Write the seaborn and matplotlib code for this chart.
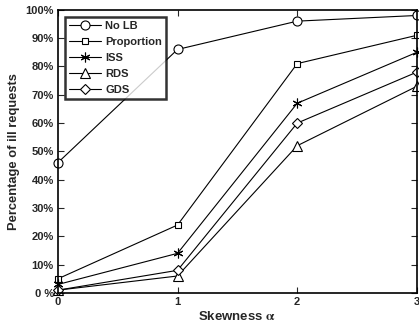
import matplotlib
matplotlib.use("Agg")
import matplotlib.pyplot as plt
import seaborn as sns
import pandas as pd

skew = [0, 1, 2, 3]
no_lb = [46, 86, 96, 98]
proportion = [5, 24, 81, 91]
iss = [3, 14, 67, 85]
rds = [1, 6, 52, 73]
gds = [1, 8, 60, 78]
series_names = ["No LB", "Proportion", "ISS", "RDS", "GDS"]
yticks = [0, 10, 20, 30, 40, 50, 60, 70, 80, 90, 100]
ytick_labels = ["0 %"] + [f"{v}%" for v in yticks[1:]]

rows = []
for name, vals in zip(series_names, [no_lb, proportion, iss, rds, gds]):
    for x, v in zip(skew, vals):
        rows.append({"alpha": x, "pct": v, "series": name})
df = pd.DataFrame(rows)

sns.set_theme(style="ticks")
plt.rcParams["font.family"] = ["Liberation Sans", "DejaVu Sans"]
plt.rcParams["font.weight"] = "bold"
plt.rcParams["mathtext.fontset"] = "stix"

fig = plt.figure(figsize=(4.19, 3.27), dpi=100)
ax = fig.add_axes([0.138, 0.104, 0.857, 0.866])

markers = {"No LB": "o", "Proportion": "s", "ISS": (6, 2, 0), "RDS": "^", "GDS": "D"}
msizes = {"No LB": 6.5, "Proportion": 5, "ISS": 7, "RDS": 7, "GDS": 5}
for name in series_names:
    sub = df[df.series == name]
    sns.lineplot(data=sub, x="alpha", y="pct", ax=ax, color="black", lw=0.8,
                 marker=markers[name], markersize=msizes[name],
                 markerfacecolor="white",
                 markeredgecolor="black", markeredgewidth=0.8,
                 label=name, legend=False)

ax.set_xlim(0, 3)
ax.set_ylim(0, 100)
ax.set_xticks(skew)
ax.set_xticklabels([str(s) for s in skew], fontsize=8, fontweight="bold")
ax.set_yticks(yticks)
ax.set_yticklabels(ytick_labels, fontsize=8, fontweight="bold")
ax.tick_params(direction="in", top=True, right=True, length=4, width=0.8, pad=3)
for s in ax.spines.values():
    s.set_linewidth(1.2)
    s.set_color("black")
ax.set_xlabel(r"Skewness $\mathrm{\alpha}$", fontsize=9.5, fontweight="bold", labelpad=2)
ax.set_ylabel("Percentage of ill requests", fontsize=9.3, fontweight="bold", labelpad=4)
for line in ax.lines:
    line.set_clip_on(False)

leg = ax.legend(loc="upper left", bbox_to_anchor=(0.02, 0.975), frameon=True,
                fancybox=False, prop={"weight": "bold", "size": 8},
                handlelength=2.9, borderpad=0.35, labelspacing=0.55, handletextpad=0.35,
                borderaxespad=0)
leg.get_frame().set_edgecolor("black")
leg.get_frame().set_linewidth(1.8)

fig.savefig("out.png", dpi=100)
